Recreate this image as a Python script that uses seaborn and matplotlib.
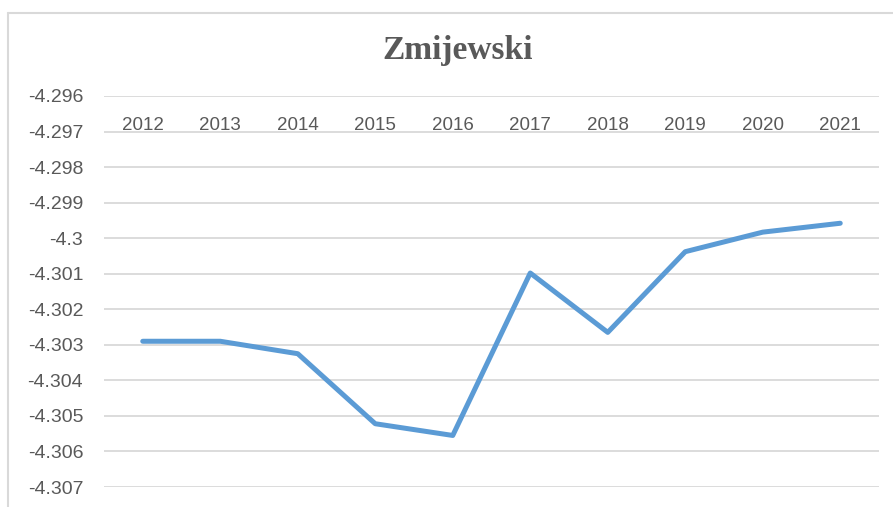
import matplotlib
matplotlib.use("Agg")
import matplotlib.pyplot as plt
from matplotlib.lines import Line2D
import seaborn as sns
import pandas as pd

years = ["2012", "2013", "2014", "2015", "2016", "2017", "2018", "2019", "2020", "2021"]
values = [-4.30290, -4.30290, -4.30325, -4.30522, -4.30555, -4.30098, -4.30265, -4.30038, -4.29983, -4.29958]
y_ticks = [-4.296, -4.297, -4.298, -4.299, -4.300, -4.301, -4.302, -4.303, -4.304, -4.305, -4.306, -4.307]
y_tick_labels = ["-4.296", "-4.297", "-4.298", "-4.299", "-4.3", "-4.301", "-4.302", "-4.303",
                 "-4.304", "-4.305", "-4.306", "-4.307"]
title = "Zmijewski"

sns.set_theme(style="white")
plt.rcParams["font.family"] = ["Liberation Sans", "DejaVu Sans"]

W, H = 893, 507
fig = plt.figure(figsize=(W / 100, H / 100), dpi=100)
fig.patch.set_facecolor("white")
ax = fig.add_axes([104 / W, 1 - 487 / H, (879 - 104) / W, (487 - 96) / H])

df = pd.DataFrame({"year": years, "value": values})
df["pos"] = range(len(years))
sns.lineplot(data=df, x="pos", y="value", ax=ax, color="#5B9BD5", linewidth=3.6,
             solid_joinstyle="round", solid_capstyle="round")

ax.set_xlim(-0.5, len(years) - 0.5)
ax.set_ylim(min(y_ticks), max(y_ticks))
ax.set_yticks(y_ticks)
ax.set_yticklabels(y_tick_labels)
ax.set_xticks(list(df["pos"]))
ax.set_xticklabels(years)
ax.xaxis.set_ticks_position("top")
ax.tick_params(axis="x", length=0, pad=-27, labelsize=13.5, colors="#595959")
ax.tick_params(axis="y", length=0, pad=15, labelsize=14, colors="#595959")
ax.set_xlabel("")
ax.set_ylabel("")
ax.grid(axis="y", color="#d9d9d9", linewidth=1.3)
ax.grid(axis="x", visible=False)
ax.set_axisbelow(True)
for s in ax.spines.values():
    s.set_visible(False)

fig.text(458 / W, 1 - 50 / H, title, ha="center", va="center", fontsize=24,
         fontweight="bold", color="#595959", family=["Liberation Serif", "DejaVu Serif"])

# chart area border (top and left edges visible)
fig.add_artist(Line2D([8 / W, 1.0], [1 - 13 / H, 1 - 13 / H], transform=fig.transFigure,
                      color="#d9d9d9", linewidth=1.5))
fig.add_artist(Line2D([8 / W, 8 / W], [0.0, 1 - 13 / H], transform=fig.transFigure,
                      color="#d9d9d9", linewidth=1.5))

fig.savefig("out.png", dpi=100)
